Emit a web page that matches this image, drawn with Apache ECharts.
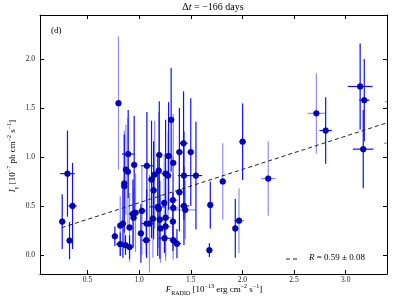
<!DOCTYPE html>
<html><head><meta charset="utf-8">
<script src="https://cdn.jsdelivr.net/npm/echarts@6/dist/echarts.min.js"></script>
<style>html,body{margin:0;padding:0;background:#fff}#c{width:407px;height:305px}</style>
</head><body><div id="c"></div>
<script>
const xTicks=[0.5,1.0,1.5,2.0,2.5,3.0];
const yTicks=[0.0,0.5,1.0,1.5,2.0];

// group with strong error bars
const xA=[0.255,0.306,0.355,0.326,0.765,0.817,0.843,0.868,0.907,0.856,0.894,0.952,0.94,1.017,1.069,1.075,1.072,1.12,1.14,1.18,1.195,1.20,1.246,1.256,1.285,1.31,1.39,1.43,1.50,1.55,1.434,1.39,1.434,1.327,1.366,2.002,1.689,1.931,1.68,2.806,3.14,3.18,3.17];
const yA=[0.34,0.83,0.50,0.146,0.19,0.11,0.32,0.10,0.08,0.73,1.03,0.92,0.42,0.22,0.15,0.91,0.32,0.77,0.66,0.49,1.02,0.36,0.17,0.83,1.01,1.38,1.05,1.14,1.05,0.81,0.81,0.64,0.50,0.34,0.115,1.156,0.51,0.27,0.048,1.27,1.72,1.58,1.08];
const xErrA=[0.03,0.07,0.04,0.02,0.02,0.04,0.03,0.04,0.02,0.02,0.06,0.03,0.04,0.03,0.04,0.06,0.05,0.03,0.03,0.08,0.03,0.03,0.06,0.04,0.03,0.03,0.03,0.04,0.03,0.06,0.06,0.03,0.05,0.03,0.04,0.03,0.02,0.02,0.02,0.06,0.12,0.05,0.10];
const yErrA=[0.28,0.44,0.44,0.19,0.10,0.12,0.35,0.10,0.12,0.50,0.45,0.50,0.35,0.30,0.15,0.55,0.35,0.60,0.50,0.50,0.55,0.40,0.15,0.55,0.55,0.53,0.45,0.53,0.55,0.55,0.45,0.40,0.40,0.30,0.15,0.39,0.24,0.30,0.07,0.34,0.44,0.42,0.40];

// group with faint error bars
const xB=[0.80,0.817,0.907,0.856,0.872,0.891,0.946,0.965,1.027,1.10,1.133,1.15,1.19,1.19,1.256,1.243,1.28,1.33,1.326,1.447,1.33,1.207,1.256,1.33,1.81,1.967,2.25,2.716,3.48,3.47];
const yB=[1.55,0.30,0.28,0.70,0.87,0.85,0.38,0.43,0.45,0.32,0.37,0.82,0.47,0.86,0.38,0.53,0.81,0.94,0.56,0.46,0.48,0.27,0.29,0.15,0.75,0.35,0.78,1.446,1.565,1.14];
const xErrB=[0.02,0.02,0.03,0.02,0.02,0.02,0.03,0.05,0.05,0.04,0.04,0.03,0.03,0.03,0.06,0.05,0.03,0.03,0.05,0.10,0.05,0.03,0.05,0.04,0.03,0.05,0.07,0.085,0.10,0.10];
const yErrB=[0.68,0.30,0.35,0.57,0.46,0.55,0.30,0.40,0.45,0.50,0.40,0.55,0.40,0.60,0.40,0.50,0.45,0.50,0.45,0.30,0.35,0.35,0.35,0.20,0.39,0.33,0.38,0.41,0.40,0.40];

// dashed fit line end points
const fitX=[0.25,3.5];
const fitY=[0.278,1.383];

const SERIF='"Liberation Serif", "DejaVu Serif", serif';

function rows(xs,ys,xe,ye){return xs.map((x,i)=>[x,ys[i],xe[i],ye[i]]);}
function errRender(color){
  return function(params,api){
    const x=api.value(0),y=api.value(1),dx=api.value(2),dy=api.value(3);
    const a=api.coord([x-dx,y]),b=api.coord([x+dx,y]);
    const c=api.coord([x,y-dy]),d=api.coord([x,y+dy]);
    const st={stroke:color,lineWidth:1.2};
    return {type:'group',children:[
      {type:'line',shape:{x1:a[0],y1:a[1],x2:b[0],y2:b[1]},style:st},
      {type:'line',shape:{x1:c[0],y1:c[1],x2:d[0],y2:d[1]},style:st}
    ]};
  };
}
const chart=echarts.init(document.getElementById('c'),null,{renderer:'canvas'});
const axisCommon={axisLine:{show:true,onZero:false,lineStyle:{color:'#000',width:1}},splitLine:{show:false}};
const sup={fontSize:6,lineHeight:6,verticalAlign:'top',fontFamily:SERIF,fill:'#000'};
const sub={fontSize:6,lineHeight:6,verticalAlign:'bottom',fontFamily:SERIF,fill:'#000'};
const it={fontStyle:'italic',fontFamily:SERIF,fontSize:9,lineHeight:13,fill:'#000'};
const nm={fontFamily:SERIF,fontSize:9,lineHeight:13,fill:'#000'};
chart.setOption({
  animation:false,
  grid:{left:40,right:20,top:15,bottom:31,containLabel:false},
  xAxis:[
    Object.assign({type:'value',min:0.04,max:3.4,position:'bottom',
      axisTick:{show:true,inside:true,length:4,customValues:xTicks,lineStyle:{color:'#000'}},
      axisLabel:{show:true,customValues:xTicks,margin:2,fontFamily:SERIF,fontSize:7.5,color:'#222',formatter:v=>v.toFixed(1)}},axisCommon),
    Object.assign({type:'value',min:0.04,max:3.4,position:'top',
      axisTick:{show:true,inside:true,length:4,customValues:xTicks,lineStyle:{color:'#000'}},
      axisLabel:{show:false}},axisCommon)
  ],
  yAxis:[
    Object.assign({type:'value',min:-0.195,max:2.45,position:'left',
      axisTick:{show:true,inside:true,length:4,customValues:yTicks,lineStyle:{color:'#000'}},
      axisLabel:{show:true,customValues:yTicks,margin:5,fontFamily:SERIF,fontSize:7.5,color:'#222',formatter:v=>v.toFixed(1)}},axisCommon),
    Object.assign({type:'value',min:-0.195,max:2.45,position:'right',
      axisTick:{show:true,inside:true,length:4,customValues:yTicks,lineStyle:{color:'#000'}},
      axisLabel:{show:false}},axisCommon)
  ],
  series:[
    {type:'custom',name:'errB',clip:true,renderItem:errRender('rgba(80,80,255,0.65)'),data:rows(xB,yB,xErrB,yErrB),encode:{x:0,y:1},z:2},
    {type:'custom',name:'errA',clip:true,renderItem:errRender('#1010ff'),data:rows(xA,yA,xErrA,yErrA),encode:{x:0,y:1},z:3},
    {type:'line',name:'fit',data:fitX.map((x,i)=>[x,fitY[i]]),showSymbol:false,clip:true,
      lineStyle:{color:'#222',width:1,type:[4,3]},z:4},
    {type:'scatter',clip:true,data:xA.map((x,i)=>[x,yA[i]]).concat(xB.map((x,i)=>[x,yB[i]])),symbolSize:5.8,
      itemStyle:{color:'#0000c8',borderColor:'#00005a',borderWidth:0.5,opacity:1},z:5}
  ],
  graphic:[
    {type:'text',x:213,y:7,style:{text:'Δ{i|t} = −166 days',fontFamily:SERIF,fontSize:10,fill:'#000',align:'center',verticalAlign:'middle',
      rich:{i:{fontStyle:'italic',fontFamily:SERIF,fontSize:10,fill:'#000'}}}},
    {type:'text',x:51,y:31,style:{text:'(d)',fontFamily:SERIF,fontSize:9,fill:'#000',align:'left',verticalAlign:'middle'}},
    {type:'text',x:214,y:290,style:{text:'{i|F}{sub|RADIO}{n| [10}{sup|−13}{n| erg cm}{sup|−2}{n| s}{sup|−1}{n|]}',
      align:'center',verticalAlign:'middle',rich:{i:it,n:nm,sup:sup,sub:sub}}},
    {type:'text',x:13,y:156,rotation:Math.PI/2,style:{text:'{i|I}{sub|γ}{n| [10}{sup|−7}{n| ph cm}{sup|−2}{n| s}{sup|−1}{n|]}',
      align:'center',verticalAlign:'middle',rich:{i:it,n:nm,sup:sup,sub:sub}}},
    {type:'line',shape:{x1:286,y1:259,x2:298,y2:259},style:{stroke:'#222',lineWidth:1,lineDash:[4,3]}},
    {type:'text',x:309,y:258,style:{text:'{i|R} = 0.59 ± 0.08',fontFamily:SERIF,fontSize:9,fill:'#000',align:'left',verticalAlign:'middle',
      rich:{i:{fontStyle:'italic',fontFamily:SERIF,fontSize:9,fill:'#000'}}}}
  ]
});
</script></body></html>
